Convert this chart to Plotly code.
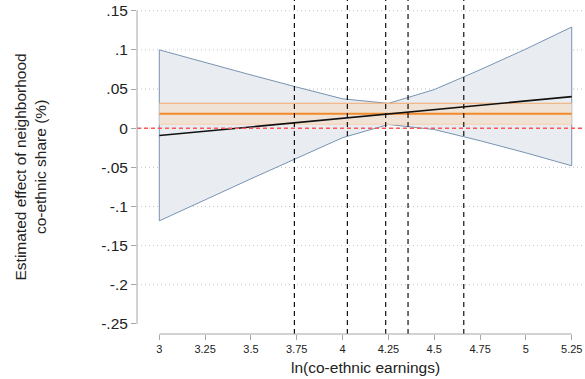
import plotly.graph_objects as go

# Marginal effect of neighborhood co-ethnic share across ln(co-ethnic earnings)
earn_grid = [3.0, 3.25, 3.5, 3.75, 4.0, 4.25, 4.5, 4.75, 5.0, 5.25]
effect = [-0.0094, -0.0039, 0.0017, 0.0072, 0.0127, 0.0182, 0.0238, 0.0293, 0.0348, 0.0403]
ci_upper = [0.1000, 0.0837, 0.0680, 0.0525, 0.0375, 0.0317, 0.0493, 0.0746, 0.1011, 0.1292]
ci_lower = [-0.1183, -0.0915, -0.0646, -0.0381, -0.0121, 0.0047, -0.0017, -0.0160, -0.0315, -0.0480]

# Pooled (non-interacted) estimate and its confidence interval
pooled_est = 0.0186
pooled_lo = 0.0051
pooled_hi = 0.0319

# Percentiles of ln(co-ethnic earnings)
pctl_marks = [3.737, 4.026, 4.235, 4.357, 4.661]

x_ticks = [3, 3.25, 3.5, 3.75, 4, 4.25, 4.5, 4.75, 5, 5.25]
x_ticklabels = ["3", "3.25", "3.5", "3.75", "4", "4.25", "4.5", "4.75", "5", "5.25"]
y_ticks = [0.15, 0.1, 0.05, 0, -0.05, -0.1, -0.15, -0.2, -0.25]
y_ticklabels = [".15", ".1", ".05", "0", "-.05", "-.1", "-.15", "-.2", "-.25"]

FONT = "Arial, Liberation Sans, sans-serif"
AXIS_GRAY = "#a6a6a6"

fig = go.Figure()

# Confidence band of the interacted effect (closed polygon with outline)
band_x = earn_grid + earn_grid[::-1] + [earn_grid[0]]
band_y = ci_upper + ci_lower[::-1] + [ci_upper[0]]
fig.add_trace(go.Scatter(
    x=band_x, y=band_y, mode="lines", fill="toself",
    fillcolor="#e9edf1", line=dict(color="#7893b3", width=1),
    hoverinfo="skip", showlegend=False,
))

# Pooled estimate band
x_lo, x_hi = earn_grid[0], earn_grid[-1]
fig.add_trace(go.Scatter(
    x=[x_lo, x_hi, x_hi, x_lo, x_lo],
    y=[pooled_hi, pooled_hi, pooled_lo, pooled_lo, pooled_hi],
    mode="lines", fill="toself", fillcolor="rgba(240,225,210,0.92)",
    line=dict(color="rgba(0,0,0,0)", width=0),
    hoverinfo="skip", showlegend=False,
))
fig.add_trace(go.Scatter(
    x=[x_lo, x_hi], y=[pooled_hi, pooled_hi], mode="lines",
    line=dict(color="#f2aa6c", width=1.1), hoverinfo="skip", showlegend=False,
))
fig.add_trace(go.Scatter(
    x=[x_lo, x_hi], y=[pooled_lo, pooled_lo], mode="lines",
    line=dict(color="#f6d2b0", width=1.1), hoverinfo="skip", showlegend=False,
))
fig.add_trace(go.Scatter(
    x=[x_lo, x_hi], y=[pooled_est, pooled_est], mode="lines",
    line=dict(color="#f28a2a", width=2), hoverinfo="skip", showlegend=False,
))

# Interacted point estimate
fig.add_trace(go.Scatter(
    x=earn_grid, y=effect, mode="lines",
    line=dict(color="#111111", width=1.6), hoverinfo="skip", showlegend=False,
))

shapes = []
# Horizontal dotted gridlines (none at the bottom axis end)
for v in y_ticks[:-1]:
    shapes.append(dict(type="line", xref="paper", yref="y", x0=0, x1=1, y0=v, y1=v,
                       line=dict(color="#c4c4c4", width=1, dash="1px,3px"), layer="below"))
# Zero reference line
shapes.append(dict(type="line", xref="paper", yref="y", x0=0, x1=1, y0=0, y1=0,
                   line=dict(color="#ff5555", width=1.6, dash="4px,3px")))
# Percentile markers
for v in pctl_marks:
    shapes.append(dict(type="line", xref="x", yref="paper", x0=v, x1=v, y0=0, y1=1,
                       line=dict(color="#111111", width=1.2, dash="5px,4px")))
# Axis lines limited to the tick span
shapes.append(dict(type="line", xref="paper", yref="y", x0=0, x1=0,
                   y0=y_ticks[-1], y1=y_ticks[0], line=dict(color=AXIS_GRAY, width=1)))
shapes.append(dict(type="line", xref="x", yref="paper", x0=x_ticks[0], x1=x_ticks[-1],
                   y0=0, y1=0, line=dict(color=AXIS_GRAY, width=1)))

fig.update_layout(
    width=585, height=379,
    margin=dict(l=137, r=0, t=0, b=45),
    paper_bgcolor="white", plot_bgcolor="white",
    shapes=shapes,
    xaxis=dict(
        range=[2.8783, 5.3224], tickvals=x_ticks, ticktext=x_ticklabels,
        showgrid=False, zeroline=False, showline=False,
        ticks="outside", ticklen=5, tickwidth=1, tickcolor=AXIS_GRAY,
        tickfont=dict(family=FONT, size=11, color="#222222"),
    ),
    yaxis=dict(
        range=[-0.2628, 0.1637], tickvals=y_ticks, ticktext=y_ticklabels,
        showgrid=False, zeroline=False, showline=False,
        ticks="outside", ticklen=5, tickwidth=1, tickcolor=AXIS_GRAY,
        tickfont=dict(family=FONT, size=15.5, color="#222222"),
    ),
    annotations=[
        dict(text="ln(co-ethnic earnings)", xref="paper", yref="paper",
             x=(365.5 - 137) / 448, y=(334 - 367) / 334,
             xanchor="center", yanchor="middle", showarrow=False,
             font=dict(family=FONT, size=15.5, color="#222222")),
        dict(text="Estimated effect of neighborhood<br>co-ethnic share (%)",
             xref="paper", yref="paper",
             x=(30 - 137) / 448, y=(334 - 167.5) / 334,
             xanchor="center", yanchor="middle", showarrow=False, textangle=-90,
             font=dict(family=FONT, size=15.5, color="#222222")),
    ],
)

fig.write_html("out.html")
